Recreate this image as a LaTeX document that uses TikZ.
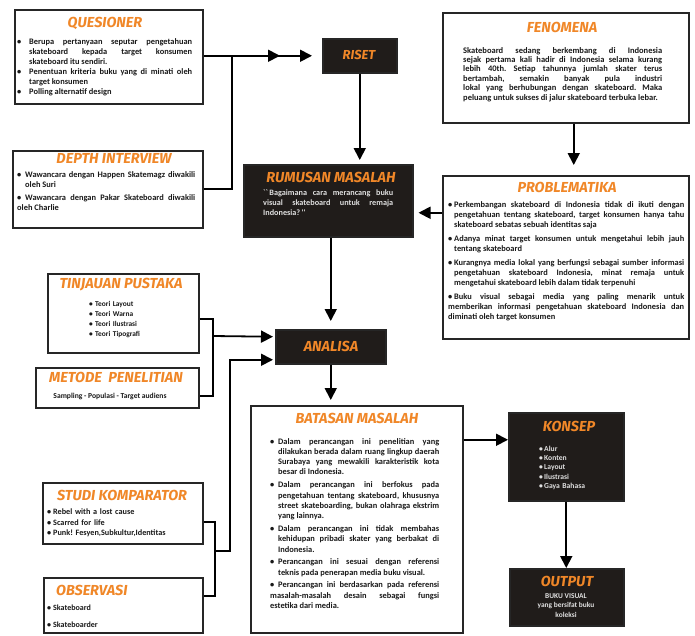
\documentclass[tikz,border=0pt]{standalone}
\usepackage{fontspec}
\usetikzlibrary{arrows.meta}
\newfontfamily\hurufisi{Carlito}
\newfontfamily\hurufjudul{Fira Sans}
\definecolor{oranye}{RGB}{240,135,40}
\definecolor{hitam}{RGB}{32,28,26}
\hyphenpenalty=10000
\exhyphenpenalty=10000
\tolerance=9999
\emergencystretch=2em
\newcommand\jarak{0pt}
\newcommand\butir[1][8pt]{\ifhmode\par\vspace{\jarak}\fi\hangindent=#1\hangafter=1\noindent\makebox[#1][l]{\textbullet}}
\tikzset{
	kotak/.style={draw=black!85, line width=1.5pt, fill=white, anchor=north west, inner sep=0pt},
	kotakgelap/.style={kotak, fill=hitam},
	judul/.style={text=oranye, font=\hurufjudul\bfseries\itshape\fontsize{14.5}{14.5}\selectfont, inner sep=0pt, anchor=north},
	isi/.style={text=black!90, font=\hurufisi\bfseries\fontsize{8.4}{10}\selectfont, align=justify, inner sep=0pt, anchor=north west},
	isiputih/.style={isi, text=white!88!black},
	garis/.style={line width=1.8pt},
	panah/.style={garis, -{Triangle[length=12pt,width=12pt]}}
}

\begin{document}
\frenchspacing
\begin{tikzpicture}[x=1pt, y=-1pt]
			%%%%% START %%%%%
			
			\fill[white] (0,0) rectangle (695,635);
			\useasboundingbox (0,0) rectangle (695,635);
			
			% kotak kiri atas
			\node[kotak, minimum width=188, minimum height=94] (ques) at (14,9) {};
			\node[judul] (quesJudul) at (105,17) {QUESIONER};
			\node[isi, text width=175] (quesIsi) at (17,34) {\butir[12pt]Berupa pertanyaan seputar pengetahuan skateboard kepada target konsumen skateboard itu sendiri.
				\butir[12pt]Penentuan kriteria buku yang di minati oleh target konsumen
				\butir[12pt]Polling alternatif design};
			
			\node[kotak, minimum width=190, minimum height=77] (depth) at (12,150) {};
			\node[judul] (depthJudul) at (114,153) {DEPTH INTERVIEW};
			\node[isi, text width=178] (depthIsi) at (17,164) {\def\jarak{3pt}\butir Wawancara dengan Happen Skatemagz diwakili oleh Suri
				\butir Wawancara dengan Pakar Skateboard diwakili oleh Charlie};
			
			% riset dan rumusan
			\node[kotakgelap, minimum width=74, minimum height=34] (riset) at (322,38) {};
			\node[judul, anchor=center, font=\hurufjudul\bfseries\itshape\fontsize{13}{13}\selectfont] (risetJudul) at (359,55) {RISET};
			
			\node[kotakgelap, minimum width=169, minimum height=72] (rumusan) at (243,164) {};
			\node[judul] (rumusanJudul) at (331,172) {RUMUSAN MASALAH};
			\node[isiputih, text width=130, font=\hurufisi\bfseries\fontsize{8.2}{9.6}\selectfont] (rumusanIsi) at (263,190) {``\,Bagaimana cara merancang buku visual skateboard untuk remaja Indonesia?\,''};
			
			% kotak kanan atas
			\node[kotak, minimum width=246, minimum height=110] (feno) at (442,12) {};
			\node[judul] (fenoJudul) at (562,22) {FENOMENA};
			\node[isi, text width=199, font=\hurufisi\bfseries\fontsize{8.5}{9.4}\selectfont] (fenoIsi) at (463,47) {Skateboard sedang berkembang di Indonesia\linebreak sejak pertama kali hadir di Indonesia selama kurang\linebreak lebih 40th. Setiap tahunnya jumlah skater terus\linebreak bertambah, semakin banyak pula industri\linebreak lokal yang berhubungan dengan skateboard. Maka\linebreak peluang untuk sukses di jalur skateboard terbuka lebar.};
			
			\node[kotak, minimum width=246, minimum height=163] (prob) at (442,175) {};
			\node[judul] (probJudul) at (567,182) {PROBLEMATIKA};
			\node[isi, text width=236, font=\hurufisi\bfseries\fontsize{8.4}{9.8}\selectfont] (probIsi) at (448,193) {\def\jarak{4.5pt}\butir[6pt]Perkembangan skateboard di Indonesia tidak di ikuti dengan pengetahuan tentang skateboard, target konsumen hanya tahu skateboard sebatas sebuah identitas saja
				\butir[6pt]Adanya minat target konsumen untuk mengetahui lebih jauh tentang skateboard
				\butir[6pt]Kurangnya media lokal yang berfungsi sebagai sumber informasi pengetahuan skateboard Indonesia, minat remaja untuk mengetahui skateboard lebih dalam tidak terpenuhi
				\butir[6pt]Buku visual sebagai media yang paling menarik untuk\linebreak memberikan informasi pengetahuan skateboard Indonesia dan\linebreak diminati oleh target konsumen};
			
			% kotak kiri tengah
			\node[kotak, minimum width=151, minimum height=79] (tinj) at (47,273) {};
			\node[judul] (tinjJudul) at (121,278) {TINJAUAN PUSTAKA};
			\node[isi, text width=70, align=left, font=\hurufisi\bfseries\fontsize{7.4}{10}\selectfont] (tinjIsi) at (89,296) {\butir[6pt]Teori Layout \butir[6pt]Teori Warna \butir[6pt]Teori Ilustrasi \butir[6pt]Teori Tipografi};
			
			\node[kotak, minimum width=163, minimum height=40] (metode) at (35,367) {};
			\node[judul] (metodeJudul) at (116,372) {METODE~~PENELITIAN};
			\node[isi, anchor=north, align=center, font=\hurufisi\bfseries\fontsize{7.6}{10}\selectfont] (metodeIsi) at (110,393) {Sampling - Populasi - Target audiens};
			
			% analisa
			\node[kotakgelap, minimum width=110, minimum height=34] (analisa) at (275,329) {};
			\node[judul, anchor=center] (analisaJudul) at (331,346) {ANALISA};
			
			\node[kotak, minimum width=212, minimum height=227] (batasan) at (250,405) {};
			\node[judul] (batasanJudul) at (357,413) {BATASAN MASALAH};
			\node[isi, text width=169, font=\hurufisi\bfseries\fontsize{8.4}{10.3}\selectfont] (batasanIsi) at (270,431) {\def\jarak{2.5pt}\butir Dalam perancangan ini penelitian yang dilakukan berada dalam ruang lingkup daerah Surabaya yang mewakili karakteristik kota besar di Indonesia.
				\butir Dalam perancangan ini berfokus pada pengetahuan tentang skateboard, khususnya street skateboarding, bukan olahraga ekstrim yang lainnya.
				\butir Dalam perancangan ini tidak membahas kehidupan pribadi skater yang berbakat di Indonesia.
				\butir Perancangan ini sesuai dengan referensi\linebreak teknis pada penerapan media buku visual.
				\butir Perancangan ini berdasarkan pada referensi masalah-masalah desain sebagai fungsi\linebreak estetika dari media.};
			
			% konsep dan output
			\node[kotakgelap, minimum width=115, minimum height=88] (konsep) at (508,412) {};
			\node[judul] (konsepJudul) at (569,421) {KONSEP};
			\node[isiputih, text width=70, align=left, font=\hurufisi\bfseries\fontsize{7.6}{9.2}\selectfont] (konsepIsi) at (539,442) {\butir[5pt]Alur \butir[5pt]Konten \butir[5pt]Layout \butir[5pt]Ilustrasi \butir[5pt]Gaya Bahasa};
			
			\node[kotakgelap, minimum width=114, minimum height=57] (output) at (509,568) {};
			\node[judul] (outputJudul) at (567,576) {OUTPUT};
			\node[isiputih, anchor=north, align=center, font=\hurufisi\bfseries\fontsize{7.4}{9.5}\selectfont] (outputIsi) at (566,593) {BUKU VISUAL\\yang bersifat buku\\koleksi};
			
			% kotak kiri bawah
			\node[kotak, minimum width=160, minimum height=61] (studi) at (42,482) {};
			\node[judul] (studiJudul) at (122,490) {STUDI KOMPARATOR};
			\node[isi, text width=150, align=left, font=\hurufisi\bfseries\fontsize{8.2}{10.5}\selectfont] (studiIsi) at (47,504) {\butir[6pt]Rebel with a lost cause \butir[6pt]Scarred for life \butir[6pt]Punk! Fesyen,Subkultur,Identitas};
			
			\node[kotak, minimum width=159, minimum height=55] (obs) at (43,577) {};
			\node[judul, anchor=north west] (obsJudul) at (56,585) {OBSERVASI};
			\node[isi, text width=150, align=left, font=\hurufisi\bfseries\fontsize{8}{10}\selectfont] (obsIsi) at (47,593) {\def\jarak{7pt}\butir[6pt]Skateboard \butir[6pt]Skateboarder};
			
			% garis penghubung
			\coordinate (qSiku) at (232,55);
			\draw[garis] (depth.east) -| (qSiku);
			\draw[garis, -{Triangle[length=12pt,width=12pt,sep=20pt]Triangle[length=12pt,width=12pt]}, shorten >=10pt] (ques.east |- riset.west) -- (riset.west);
			\draw[panah, shorten >=4pt] (riset.south) -- (riset.south |- rumusan.north);
			\draw[panah, shorten >=10pt] ([xshift=8pt]feno.south) -- ([xshift=8pt]feno.south |- prob.north);
			
			\coordinate (rumMasuk) at ([yshift=-12pt]rumusan.east);
			\draw[panah, shorten >=5pt] (rumMasuk -| prob.west) -- (rumMasuk);
			\draw[panah, shorten >=8pt] (rumusan.south -| analisa.north) -- (analisa.north);
			
			\coordinate (anaMasuk1) at ([yshift=10pt]analisa.west);
			\coordinate (anaMasuk2) at ([yshift=-13pt]analisa.west);
			\coordinate (tinjSiku) at (213,336);
			\draw[garis] ([yshift=-6pt]tinj.east) -| (tinjSiku) |- ([yshift=-8pt]metode.east);
			\draw[panah, shorten >=2pt] (tinjSiku) -- (anaMasuk1);
			
			\coordinate (studiSiku) at (215,551);
			\draw[garis] ([yshift=-9pt]studi.east) -| (studiSiku) |- ([yshift=9pt]obs.east);
			\draw[panah, shorten >=2pt] (studiSiku) -- ++(15,0) |- (anaMasuk2);
			
			\draw[panah, shorten >=5pt] (analisa.south) -- (analisa.south |- batasan.north);
			\coordinate (konMasuk) at ([yshift=17pt]konsep.west);
			\draw[panah] (konMasuk -| batasan.east) -- (konMasuk);
			\draw[panah] (konsep.south) -- (konsep.south |- output.north);
			
			%%%%% END %%%%%
\end{tikzpicture}
\end{document}
